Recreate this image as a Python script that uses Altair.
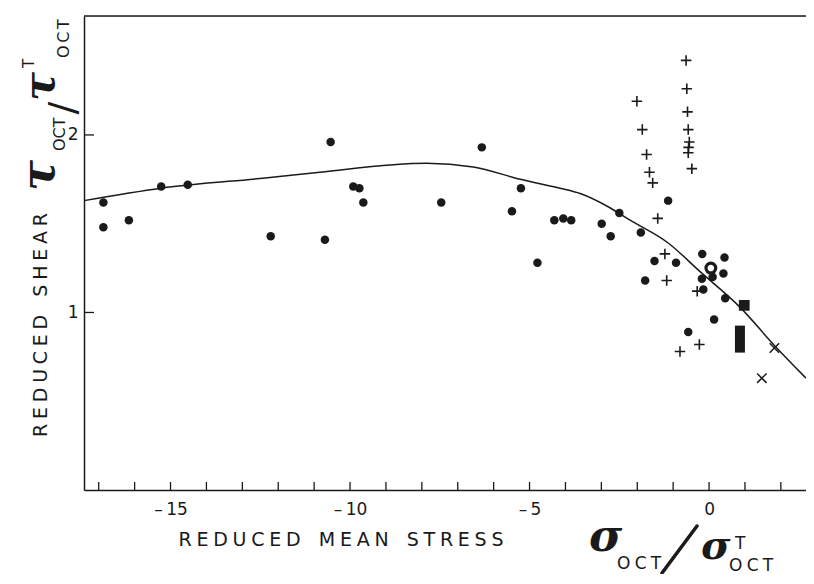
import altair as alt
import pandas as pd

# ---- data ----
dot_x = [-16.87, -16.87, -16.16, -15.26, -14.52, -12.21, -10.70, -10.54, -9.91, -9.74,
         -9.63, -7.46, -6.33, -5.49, -5.24, -4.78, -4.31, -4.06, -3.84, -2.99,
         -2.74, -2.50, -1.90, -1.14, -1.52, -0.92, -1.78, -0.19, 0.43, 0.40,
         0.10, -0.20, -0.16, 0.45, 0.14, -0.58]
dot_y = [1.62, 1.48, 1.52, 1.71, 1.72, 1.43, 1.41, 1.96, 1.71, 1.70,
         1.62, 1.62, 1.93, 1.57, 1.70, 1.28, 1.52, 1.53, 1.52, 1.50,
         1.43, 1.56, 1.45, 1.63, 1.29, 1.28, 1.18, 1.33, 1.31, 1.22,
         1.20, 1.19, 1.13, 1.08, 0.96, 0.89]

plus_x = [-0.64, -0.62, -2.01, -0.60, -1.86, -0.58, -0.55, -0.57, -0.58, -1.74,
          -1.66, -0.48, -1.57, -1.43, -1.23, -1.18, -0.33, -0.27, -0.81]
plus_y = [2.42, 2.26, 2.19, 2.13, 2.03, 2.03, 1.96, 1.93, 1.90, 1.89,
          1.79, 1.81, 1.73, 1.53, 1.33, 1.18, 1.12, 0.82, 0.78]

ring_x, ring_y = [0.05], [1.25]
square_x, square_y = [0.98], [1.04]
bar_x, bar_y = [0.86], [0.85]
cross_x = [1.82, 1.47]
cross_y = [0.80, 0.63]

curve_x = [-17.41, -15.26, -12.23, -10.84, -7.86, -6.57, -5.26, -4.15, -3.59,
           -2.76, -2.20, -1.13, -0.25, 0.86, 1.84, 2.70]
curve_y = [1.63, 1.70, 1.76, 1.79, 1.84, 1.82, 1.75, 1.70, 1.67,
           1.59, 1.52, 1.39, 1.23, 1.03, 0.81, 0.63]

x_ticks = list(range(-17, 3))
x_labels = [-15, -10, -5, 0]
y_labels = [1, 2]

# ---- layout ----
W, H = 722, 474
INK = "#1a1a1a"
FONT = "DejaVu Sans"
SERIF = "DejaVu Serif"

xscale = alt.Scale(domain=[-17.41, 2.70], nice=False, zero=False)
yscale = alt.Scale(domain=[0, 2.67], nice=False, zero=False)

xaxis = alt.Axis(values=x_labels, ticks=False, grid=False, domainColor=INK, domainWidth=1.5,
                 labelFont=FONT, labelFontSize=17, labelColor=INK, labelPadding=11,
                 labelExpr="datum.value < 0 ? '\u2013\u2009' + abs(datum.value) + '\u2009\u2002' : datum.label")
yaxis = alt.Axis(values=y_labels, ticks=False, grid=False, domainColor=INK, domainWidth=1.5,
                 labelFont=FONT, labelFontSize=17, labelColor=INK, labelPadding=6)


def X(f):
    return alt.X(f, type="quantitative", scale=xscale, axis=xaxis, title="")


def Y(f):
    return alt.Y(f, type="quantitative", scale=yscale, axis=yaxis, title="")


def df(xs, ys):
    return pd.DataFrame({"x": xs, "y": ys})


one = alt.Data(values=[{}])

curve = alt.Chart(df(curve_x, curve_y)).mark_line(
    interpolate="monotone", stroke=INK, strokeWidth=1.5).encode(x=X("x"), y=Y("y"))

top_rule = alt.Chart(one).mark_rule(stroke=INK, strokeWidth=1.5).encode(
    x=alt.value(0), x2=alt.value(W), y=alt.value(0))

xt = alt.Chart(pd.DataFrame({"x": x_ticks})).mark_rule(stroke=INK, strokeWidth=1.3).encode(
    x=X("x"), y=alt.value(H), y2=alt.value(H - 8))
yt = alt.Chart(pd.DataFrame({"y": y_labels})).mark_rule(stroke=INK, strokeWidth=1.3).encode(
    y=Y("y"), x=alt.value(0), x2=alt.value(10))

dots = alt.Chart(df(dot_x, dot_y)).mark_circle(size=72, color=INK, opacity=1).encode(
    x=X("x"), y=Y("y"))

plus = alt.Chart(df(plus_x, plus_y)).mark_point(
    shape="M-1,0L1,0M0,-1L0,1", size=110, filled=False, stroke=INK, strokeWidth=1.6, opacity=1
).encode(x=X("x"), y=Y("y"))

ring = alt.Chart(df(ring_x, ring_y)).mark_point(
    shape="circle", size=95, filled=False, stroke=INK, strokeWidth=3.2, opacity=1
).encode(x=X("x"), y=Y("y"))

square = alt.Chart(df(square_x, square_y)).mark_point(
    shape="square", size=115, filled=True, color=INK, opacity=1).encode(x=X("x"), y=Y("y"))

bar = alt.Chart(df(bar_x, bar_y)).mark_point(
    shape="M-0.37,-1L0.37,-1L0.37,1L-0.37,1Z", size=729, filled=True, color=INK, opacity=1
).encode(x=X("x"), y=Y("y"))

cross = alt.Chart(df(cross_x, cross_y)).mark_point(
    shape="M-1,-1L1,1M-1,1L1,-1", size=90, filled=False, stroke=INK, strokeWidth=1.5, opacity=1
).encode(x=X("x"), y=Y("y"))

# ---- text annotations (page coords -> plot coords: subtract (84, 16)) ----
OX, OY = 84, 16


def txt(s, px, py, size, font=FONT, angle=0, align="left", baseline="alphabetic",
        style="normal", weight="normal"):
    props = dict(text=s, font=font, fontSize=size, fontStyle=style, fontWeight=weight,
                 color=INK, align=align, baseline=baseline)
    if angle:
        props["angle"] = angle
    return alt.Chart(one).mark_text(**props).encode(x=alt.value(px - OX), y=alt.value(py - OY))


sp = "\u2005"
gap = "\u00a0\u00a0\u00a0"
texts = [
    # x title
    txt(sp.join("REDUCED") + gap + sp.join("MEAN") + gap + sp.join("STRESS"),
        341, 540, 19, align="center", baseline="middle"),
    # y title
    txt(sp.join("REDUCED") + gap + sp.join("SHEAR"),
        41, 325, 19, angle=270, align="center", baseline="middle"),
    # tau ratio (rotated)
    txt("\u03c4", 54, 191, 46, font=SERIF, angle=270, style="italic", weight="bold"),
    txt("OCT", 65, 151, 16, angle=270),
    txt("/", 64, 108, 38, angle=270, align="center", baseline="middle"),
    txt("\u03c4", 54, 101, 43, font=SERIF, angle=270, style="italic", weight="bold"),
    txt("T", 34, 68, 15, angle=270),
    txt("O\u2006C\u2006T", 69, 58, 16, angle=270),
    # sigma ratio
    txt("\u03c3", 589, 551, 45, font=SERIF, style="italic", weight="bold"),
    txt("O\u2005C\u2005T", 617, 569, 17),
    txt("\u03c3", 701, 559, 40, font=SERIF, style="italic", weight="bold"),
    txt("T", 735, 549, 17),
    txt("O\u2005C\u2005T", 729, 571, 17),
]

slash = alt.Chart(one).mark_rule(stroke=INK, strokeWidth=3.5, strokeCap="round").encode(
    x=alt.value(662 - OX), y=alt.value(573 - OY), x2=alt.value(697 - OX), y2=alt.value(526 - OY))

chart = alt.layer(
    curve, top_rule, xt, yt, dots, plus, ring, square, bar, cross, slash, *texts
).properties(
    width=W, height=H,
    autosize=alt.AutoSizeParams(type="none"),
    padding={"left": 76, "top": 8, "right": 0, "bottom": 84},
).configure_view(strokeWidth=0).configure(background="white")

chart.save("out.html", embed_options={"renderer": "svg", "actions": False})
